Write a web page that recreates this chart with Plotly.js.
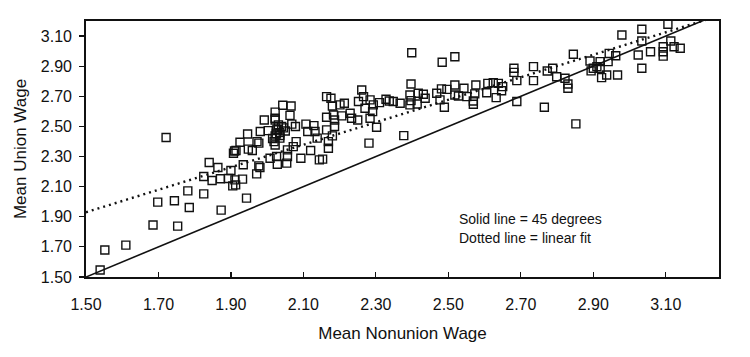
<!DOCTYPE html>
<html>
<head>
<meta charset="utf-8">
<script src="https://cdn.plot.ly/plotly-3.0.1.min.js"></script>
<style>
  html, body { margin: 0; padding: 0; background: #ffffff; }
  #chart { width: 750px; height: 357px; }
</style>
</head>
<body>
<div id="chart"></div>
<script>
// Mean nonunion wage (x) and mean union wage (y)
const nonunionWage = [
  1.539, 1.552, 1.610, 1.685, 1.753, 1.698, 1.744, 1.785, 1.781, 1.825,
  1.873, 1.721, 1.825, 1.848, 1.840, 1.864, 1.871, 1.893, 1.900, 1.905,
  1.913, 1.907, 1.910, 1.932, 1.943, 1.971, 1.934, 1.977, 1.980, 1.911,
  2.043, 2.066, 2.022, 2.063, 1.992, 2.022, 2.031, 2.068, 2.078, 2.107,
  2.129, 1.981, 2.003, 2.026, 2.035, 2.112, 2.132, 1.946, 2.022, 2.035,
  2.138, 2.019, 2.022, 1.972, 1.925, 1.977, 2.080, 1.948, 1.959, 1.914,
  2.072, 2.056, 2.120, 2.056, 2.026, 2.008, 2.093, 2.028, 2.054, 2.144,
  2.030, 2.040, 2.025, 2.035, 2.045, 2.022, 2.015, 2.050,
  2.399, 2.483, 2.261, 2.397, 2.481, 2.164, 2.176, 2.213, 2.201, 2.180,
  2.252, 2.266, 2.284, 2.293, 2.310, 2.328, 2.337, 2.348, 2.367, 2.394,
  2.397, 2.417, 2.431, 2.436, 2.394, 2.414, 2.468, 2.477, 2.489, 2.270,
  2.291, 2.229, 2.206, 2.233, 2.250, 2.284, 2.164, 2.183, 2.186, 2.164,
  2.186, 2.180, 2.302, 2.169, 2.169, 2.281, 2.377, 2.153,
  2.518, 2.845, 2.891, 2.681, 2.681, 2.735, 2.788, 2.773, 2.735, 2.689,
  2.799, 2.822, 2.830, 2.830, 2.518, 2.576, 2.609, 2.624, 2.638, 2.650,
  2.647, 2.496, 2.543, 2.518, 2.528, 2.551, 2.573, 2.606, 2.569, 2.569,
  2.632, 2.689, 2.765, 2.852,
  3.106, 3.034, 2.979, 3.034, 2.944, 2.962, 3.114, 3.093, 3.123, 3.140,
  3.093, 3.093, 3.058, 3.024, 3.034, 2.919, 2.941, 2.900, 2.919, 2.910,
  2.937, 2.923, 2.967, 2.894
];
const unionWage = [
  1.546, 1.679, 1.712, 1.845, 1.838, 1.997, 2.006, 1.962, 2.072, 2.052,
  1.944, 2.426, 2.167, 2.141, 2.260, 2.227, 2.152, 2.154, 2.207, 2.105,
  2.112, 2.322, 2.337, 2.150, 2.024, 2.185, 2.245, 2.238, 2.227, 2.145,
  2.641, 2.636, 2.595, 2.573, 2.543, 2.543, 2.510, 2.515, 2.499, 2.515,
  2.505, 2.466, 2.472, 2.477, 2.459, 2.466, 2.466, 2.450, 2.437, 2.422,
  2.422, 2.399, 2.377, 2.399, 2.395, 2.389, 2.399, 2.349, 2.340, 2.340,
  2.366, 2.344, 2.340, 2.300, 2.300, 2.289, 2.289, 2.249, 2.256, 2.278,
  2.480, 2.500, 2.450, 2.440, 2.490, 2.554, 2.420, 2.470,
  2.989, 2.926, 2.742, 2.782, 2.749, 2.698, 2.687, 2.654, 2.643, 2.636,
  2.665, 2.698, 2.676, 2.643, 2.658, 2.680, 2.669, 2.665, 2.654, 2.709,
  2.671, 2.720, 2.714, 2.687, 2.643, 2.649, 2.720, 2.676, 2.627, 2.621,
  2.598, 2.587, 2.570, 2.554, 2.543, 2.554, 2.561, 2.576, 2.543, 2.477,
  2.499, 2.437, 2.494, 2.399, 2.355, 2.389, 2.439, 2.283,
  2.963, 2.979, 2.934, 2.886, 2.859, 2.897, 2.886, 2.868, 2.804, 2.804,
  2.830, 2.820, 2.782, 2.753, 2.775, 2.775, 2.786, 2.790, 2.786, 2.764,
  2.737, 2.746, 2.753, 2.709, 2.702, 2.698, 2.716, 2.724, 2.669, 2.647,
  2.691, 2.665, 2.627, 2.517,
  3.178, 3.145, 3.107, 3.067, 2.985, 2.969, 3.067, 3.029, 3.029, 3.019,
  2.996, 2.967, 2.996, 2.974, 2.886, 2.930, 2.930, 2.886, 2.886, 2.897,
  2.841, 2.824, 2.841, 2.869
];

// Reference lines (endpoints)
const diagX = [1.50, 3.25];
const diagY = [1.50, 3.25];
const fitX = [1.50, 3.25];
const fitY = [1.93, 3.237];

// Tick values and labels
const tickValues = [1.50, 1.70, 1.90, 2.10, 2.30, 2.50, 2.70, 2.90, 3.10];
const tickLabels = ["1.50", "1.70", "1.90", "2.10", "2.30", "2.50", "2.70", "2.90", "3.10"];

const noteLines = ["Solid line = 45 degrees", "Dotted line = linear fit"];
const noteX = [2.523, 2.523];
const noteY = [1.887, 1.759];

const ink = "#111111";
const FONT = "Liberation Sans, Arial, sans-serif";

const traces = [
  {
    x: diagX, y: diagY, type: "scatter", mode: "lines",
    line: { color: ink, width: 1.6 }, hoverinfo: "skip", showlegend: false
  },
  {
    x: fitX, y: fitY, type: "scatter", mode: "lines",
    line: { color: ink, width: 2.4, dash: "2px,4px" }, hoverinfo: "skip", showlegend: false
  },
  {
    x: nonunionWage, y: unionWage, type: "scatter", mode: "markers",
    marker: { symbol: "square-open", size: 8, color: ink, line: { color: ink, width: 1.4 } },
    showlegend: false
  }
];

const layout = {
  width: 750, height: 357,
  margin: { l: 86, r: 31, t: 21, b: 80 },
  paper_bgcolor: "#ffffff", plot_bgcolor: "#ffffff",
  font: { family: FONT, color: ink, size: 16 },
  showlegend: false,
  xaxis: {
    range: [1.5, 3.247],
    tickvals: tickValues, ticktext: tickLabels,
    ticks: "inside", ticklen: 5, tickwidth: 1.2, tickcolor: ink,
    showline: true, linecolor: ink, linewidth: 1.8, mirror: true,
    showgrid: false, zeroline: false,
    tickfont: { family: FONT, size: 16, color: ink },
    ticklabelstandoff: 12,
    title: { text: "Mean Nonunion Wage", font: { family: FONT, size: 17, color: ink }, standoff: 15 }
  },
  yaxis: {
    range: [1.5, 3.2],
    tickvals: tickValues, ticktext: tickLabels,
    ticks: "outside", ticklen: 5, tickwidth: 1.2, tickcolor: ink,
    showline: true, linecolor: ink, linewidth: 1.8, mirror: true,
    showgrid: false, zeroline: false,
    tickfont: { family: FONT, size: 16, color: ink },
    ticklabelstandoff: 4,
    title: { text: "Mean Union Wage", font: { family: FONT, size: 17, color: ink }, standoff: 10 }
  },
  annotations: noteLines.map((t, i) => ({
    x: noteX[i], y: noteY[i], xref: "x", yref: "y",
    text: t, showarrow: false, xanchor: "left", yanchor: "middle",
    font: { family: FONT, size: 14, color: ink }
  }))
};

Plotly.newPlot("chart", traces, layout, { displayModeBar: false, staticPlot: true });
</script>
</body>
</html>
